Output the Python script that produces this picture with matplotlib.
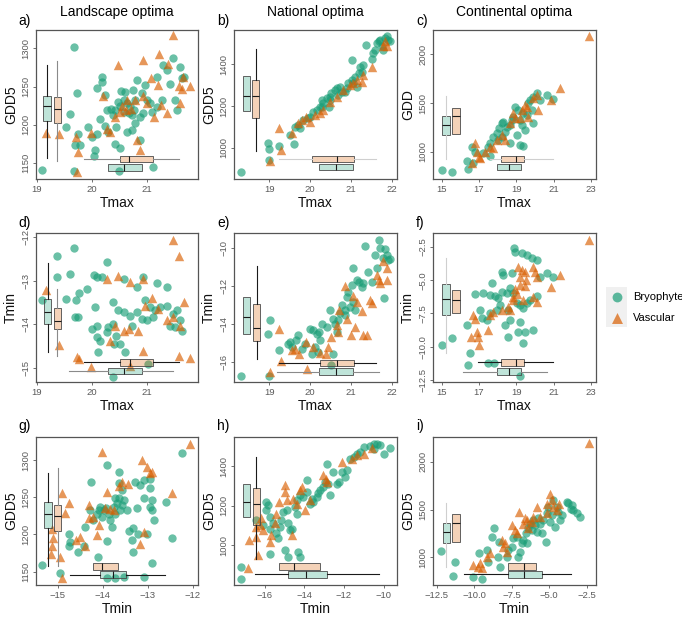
import numpy as np
import matplotlib
matplotlib.use("Agg")
import matplotlib.pyplot as plt
from matplotlib.colors import to_rgba

plt.rcParams['font.family'] = ['Liberation Sans', 'DejaVu Sans']

GREEN = '#1b9e77'
ORANGE = '#d95f02'

# ---------------- data (x, y) per panel and group ----------------
a_bryo = np.array([(19.09,1141),(19.68,1302),(19.73,1242),(19.61,1214),(19.53,1197),(19.70,1173),(19.79,1173),(19.68,1140),(19.76,1188),(19.94,1197),(20.00,1184),(20.09,1188),(20.06,1167),(20.05,1159),(20.10,1248),(20.18,1256),(20.19,1262),(20.25,1239),(20.27,1219),(20.15,1208),(20.24,1199),(20.29,1191),(20.38,1213),(20.42,1219),(20.35,1221),(20.48,1230),(20.53,1244),(20.61,1243),(20.52,1224),(20.58,1232),(20.64,1228),(20.70,1224),(20.58,1217),(20.67,1215),(20.73,1213),(20.76,1219),(20.79,1232),(20.82,1258),(20.75,1245),(20.91,1241),(20.97,1252),(21.00,1232),(21.06,1228),(21.09,1217),(20.94,1215),(20.88,1210),(20.79,1202),(20.73,1193),(20.64,1191),(20.45,1197),(20.42,1175),(20.52,1169),(20.88,1180),(21.11,1145),(20.50,1140),(21.18,1263),(21.30,1278),(21.36,1272),(21.47,1287),(21.61,1276),(21.64,1261),(21.42,1253),(21.52,1232),(21.55,1219),(21.27,1232),(21.18,1223),(21.67,1263)])
a_vasc = np.array([(19.17,1189),(19.41,1188),(19.72,1184),(19.76,1164),(19.73,1138),(19.98,1189),(20.21,1237),(20.27,1195),(20.48,1278),(20.62,1219),(20.79,1232),(20.83,1180),(20.87,1167),(20.94,1285),(20.94,1237),(21.00,1228),(21.08,1261),(21.13,1210),(21.23,1293),(21.36,1215),(21.39,1280),(21.48,1317),(21.58,1251),(21.64,1247),(21.66,1263),(21.79,1251),(21.61,1228),(21.25,1226),(21.21,1252),(20.33,1191),(20.42,1210),(20.52,1217),(20.55,1224),(20.64,1232),(20.71,1221)])

b_bryo = np.array([(18.32,882),(18.96,1024),(18.99,992),(19.00,941),(19.24,1008),(19.51,1061),(19.60,1018),(19.63,1101),(19.71,1109),(19.75,1093),(19.83,1133),(19.95,1141),(19.99,1149),(20.08,1173),(20.16,1181),(20.24,1197),(20.28,1229),(20.32,1213),(20.40,1237),(20.48,1245),(20.52,1261),(20.61,1277),(20.65,1285),(20.69,1253),(20.73,1293),(20.77,1269),(20.85,1269),(20.89,1285),(20.93,1309),(21.01,1325),(21.03,1421),(21.05,1309),(21.09,1341),(21.14,1293),(21.18,1357),(21.22,1389),(21.26,1365),(21.30,1397),(21.36,1490),(21.50,1424),(21.54,1453),(21.58,1469),(21.62,1501),(21.67,1509),(21.71,1517),(21.75,1485),(21.79,1469),(21.83,1525),(21.87,1533),(21.91,1517),(21.95,1509),(20.28,1197),(20.45,1197),(20.48,1229)])
b_vasc = np.array([(19.24,1096),(19.28,989),(19.02,936),(19.55,1069),(19.71,1117),(19.81,1133),(19.91,1149),(19.99,1125),(20.12,1157),(20.24,1165),(20.32,1181),(20.48,1221),(20.65,1245),(20.81,1277),(20.97,1301),(21.05,1309),(21.14,1325),(21.26,1317),(21.30,1349),(21.50,1389),(21.79,1485),(21.87,1485),(21.83,1509)])

c_bryo = np.array([(15.00,812),(15.55,788),(16.43,824),(16.70,889),(16.34,909),(16.61,1053),(16.79,1001),(17.23,984),(17.59,957),(17.50,1053),(17.59,1087),(17.77,1155),(17.95,1189),(18.09,1241),(18.21,1292),(18.30,1309),(18.04,1121),(18.21,1155),(18.39,1207),(18.48,1258),(18.66,1275),(18.75,1326),(18.84,1360),(18.93,1463),(19.11,1429),(19.20,1326),(19.29,1275),(19.38,1060),(19.20,1070),(18.66,1087),(19.02,1172),(19.46,1224),(19.55,1378),(19.64,1497),(19.73,1531),(20.09,1600),(19.91,1566),(20.27,1531),(20.63,1583),(20.98,1538),(19.82,1429),(19.91,1292),(19.38,1395)])
c_vasc = np.array([(22.89,2188),(21.34,1658),(20.86,1531),(20.09,1583),(19.91,1549),(20.18,1429),(19.55,1463),(19.46,1480),(19.20,1343),(18.93,1343),(18.66,1292),(18.21,1172),(18.39,1121),(17.95,1121),(17.77,1036),(17.59,1053),(17.02,950),(17.05,933),(16.79,1087),(16.61,882),(16.91,1001),(17.32,1001),(18.84,1395),(19.29,1429),(19.64,1360)])

d_bryo = np.array([(19.09,-13.45),(19.38,-12.44),(19.38,-12.92),(19.68,-12.25),(19.61,-12.84),(19.77,-13.28),(19.72,-13.45),(19.70,-13.84),(19.76,-13.84),(19.53,-13.42),(19.92,-13.18),(20.05,-12.87),(20.10,-12.92),(20.18,-12.92),(20.27,-12.56),(20.06,-13.60),(20.09,-14.03),(20.00,-14.11),(20.10,-14.30),(20.12,-14.63),(20.15,-14.38),(20.27,-14.19),(20.41,-14.46),(20.45,-14.26),(20.52,-14.46),(20.61,-14.65),(20.58,-12.95),(20.82,-13.14),(20.94,-12.91),(21.18,-13.05),(21.36,-13.14),(20.39,-13.49),(20.48,-13.68),(20.59,-13.72),(20.70,-13.80),(20.82,-13.72),(20.91,-13.88),(20.97,-13.45),(21.06,-13.60),(21.15,-13.68),(21.24,-13.60),(21.36,-13.57),(21.48,-13.76),(21.55,-13.68),(21.61,-13.91),(21.64,-14.16),(21.52,-14.07),(21.42,-14.03),(21.12,-13.84),(21.00,-13.91),(20.73,-14.03),(20.39,-13.99),(20.30,-14.07),(20.39,-15.22),(21.02,-14.91)])
d_vasc = np.array([(19.17,-13.22),(19.41,-14.47),(19.73,-14.75),(19.77,-14.81),(19.99,-14.98),(20.27,-12.97),(20.48,-12.89),(20.70,-13.02),(20.94,-12.95),(20.97,-13.59),(21.09,-13.39),(20.94,-14.61),(21.48,-12.05),(21.58,-12.43),(21.67,-13.49),(21.36,-13.91),(21.48,-13.84),(21.61,-14.05),(21.59,-14.73),(21.79,-14.77),(20.33,-14.38),(20.42,-14.03),(20.58,-14.15),(20.67,-14.11),(20.85,-14.15),(20.70,-14.96),(21.21,-13.64)])

e_bryo = np.array([(18.32,-16.76),(19.02,-13.81),(18.98,-14.51),(19.00,-16.76),(19.24,-15.40),(19.46,-15.04),(19.51,-14.96),(19.55,-15.22),(19.65,-14.87),(19.71,-14.60),(19.79,-15.31),(19.87,-15.04),(19.99,-14.25),(20.08,-14.34),(20.16,-14.51),(20.22,-14.42),(20.24,-14.87),(20.12,-15.22),(20.20,-15.49),(20.04,-15.58),(20.28,-13.98),(20.40,-14.16),(20.48,-13.27),(20.56,-13.72),(20.61,-13.98),(20.69,-13.81),(20.73,-13.45),(20.77,-13.01),(20.85,-13.27),(20.89,-12.57),(20.93,-12.30),(20.97,-13.10),(21.01,-11.95),(21.05,-12.83),(21.09,-13.27),(21.14,-11.68),(21.20,-11.77),(21.26,-12.04),(21.30,-11.86),(21.34,-9.91),(21.42,-11.24),(21.50,-11.77),(21.58,-10.35),(21.62,-11.06),(21.67,-9.59),(21.71,-10.00),(21.79,-10.53),(21.83,-10.05),(21.87,-10.35),(21.91,-10.62),(21.95,-10.58),(21.80,-12.65),(21.05,-11.06),(20.85,-13.54),(20.65,-14.42),(20.56,-15.58),(20.51,-16.14)])
e_vasc = np.array([(19.24,-14.25),(19.02,-16.55),(19.29,-15.96),(19.55,-15.40),(19.63,-15.31),(19.73,-15.58),(19.90,-14.96),(19.93,-16.37),(20.06,-15.22),(20.24,-15.52),(20.39,-15.58),(20.44,-15.22),(20.52,-14.69),(20.65,-14.07),(20.69,-14.42),(20.71,-13.27),(20.85,-12.00),(20.89,-13.72),(20.99,-14.60),(21.04,-12.53),(21.14,-12.83),(21.26,-13.33),(21.30,-14.60),(21.38,-14.60),(21.45,-12.74),(21.50,-12.92),(21.62,-11.42),(21.67,-11.68),(21.79,-10.71),(21.87,-11.06),(21.87,-11.68),(21.71,-11.86),(21.09,-14.16)])

f_bryo = np.array([(18.88,-2.60),(18.93,-2.85),(19.29,-2.97),(19.55,-3.10),(19.82,-3.35),(20.09,-3.47),(20.63,-4.43),(20.98,-4.78),(20.27,-4.73),(18.21,-4.36),(18.30,-4.61),(18.75,-4.48),(17.68,-5.23),(16.79,-6.04),(17.23,-5.99),(17.59,-6.11),(17.86,-6.19),(18.04,-6.36),(18.21,-5.86),(18.48,-5.99),(18.66,-5.61),(18.84,-5.94),(19.02,-6.74),(19.20,-6.87),(19.38,-7.12),(19.55,-6.74),(19.73,-6.49),(20.09,-6.19),(17.04,-7.25),(17.16,-7.87),(17.41,-8.00),(16.34,-8.37),(17.59,-7.50),(17.95,-7.25),(18.13,-6.87),(18.57,-7.25),(18.66,-8.00),(18.39,-8.37),(19.20,-8.12),(19.11,-8.87),(19.46,-8.87),(19.91,-8.75),(19.38,-9.75),(18.57,-9.25),(16.52,-10.49),(16.39,-11.37),(17.50,-11.24),(17.80,-11.24),(19.20,-12.19),(15.00,-9.87),(15.55,-9.34)])
f_vasc = np.array([(22.89,-1.97),(21.34,-4.61),(20.86,-5.54),(19.11,-4.00),(19.29,-4.25),(19.46,-4.38),(19.20,-4.76),(19.91,-4.00),(20.00,-4.38),(20.09,-4.76),(19.52,-5.01),(19.20,-5.38),(19.46,-5.46),(18.93,-5.63),(19.02,-6.00),(18.84,-6.26),(19.38,-6.51),(19.91,-6.26),(20.09,-6.63),(18.84,-6.51),(18.57,-7.01),(18.66,-7.26),(18.21,-7.26),(17.77,-7.38),(17.59,-7.63),(17.50,-8.76),(16.88,-8.89),(16.96,-9.26),(17.02,-9.89),(16.55,-9.26),(16.70,-7.63),(16.79,-7.89)])

g_bryo = np.array([(-15.36,1159),(-14.96,1148),(-14.76,1201),(-14.73,1190),(-14.76,1184),(-14.56,1176),(-14.41,1184),(-14.39,1210),(-14.27,1270),(-14.11,1170),(-14.06,1237),(-13.98,1233),(-14.13,1228),(-13.91,1293),(-13.80,1210),(-13.91,1191),(-13.65,1284),(-13.65,1269),(-13.57,1260),(-13.54,1246),(-13.72,1249),(-13.65,1249),(-13.46,1233),(-13.42,1204),(-13.35,1193),(-13.33,1177),(-13.28,1271),(-13.24,1235),(-13.17,1266),(-13.09,1273),(-13.08,1249),(-12.94,1262),(-12.94,1275),(-12.91,1246),(-12.94,1237),(-12.91,1233),(-12.87,1219),(-13.02,1201),(-13.22,1201),(-13.33,1208),(-13.09,1143),(-12.91,1162),(-12.59,1244),(-12.45,1195),(-12.24,1309),(-14.09,1233),(-14.02,1224),(-13.92,1235),(-13.87,1228),(-13.76,1237),(-13.69,1242),(-13.61,1233),(-13.57,1240),(-13.72,1228),(-13.83,1219),(-14.21,1219),(-14.28,1233),(-13.72,1141),(-13.91,1142),(-13.54,1143)])
g_vasc = np.array([(-15.13,1207),(-15.12,1195),(-15.13,1184),(-15.16,1174),(-14.96,1170),(-14.90,1256),(-14.85,1229),(-14.75,1242),(-14.91,1141),(-14.50,1197),(-14.59,1193),(-14.39,1184),(-14.32,1240),(-14.32,1222),(-14.21,1224),(-14.13,1199),(-14.09,1213),(-14.03,1311),(-13.95,1235),(-13.91,1257),(-13.83,1234),(-13.76,1233),(-13.65,1265),(-13.57,1271),(-13.43,1268),(-13.18,1187),(-13.13,1300),(-13.08,1203),(-13.02,1291),(-12.96,1282),(-12.91,1284),(-12.46,1256),(-12.05,1322)])

h_bryo = np.array([(-17.18,826),(-17.18,890),(-16.46,1127),(-15.92,1219),(-15.83,1202),(-15.92,1177),(-15.75,1143),(-16.08,1101),(-15.75,1084),(-15.58,1110),(-15.41,1059),(-15.32,1034),(-15.24,1093),(-15.16,1127),(-15.07,1169),(-14.90,1177),(-14.82,1110),(-14.73,1076),(-14.60,1084),(-15.75,954),(-14.99,975),(-14.82,941),(-14.31,966),(-14.23,941),(-14.48,1194),(-14.39,1228),(-14.23,1253),(-14.06,1245),(-13.89,1270),(-13.85,1329),(-13.72,1211),(-13.64,1236),(-13.55,1219),(-13.38,1245),(-13.30,1262),(-13.21,1278),(-13.04,1295),(-12.96,1321),(-12.87,1413),(-12.79,1312),(-12.54,1371),(-12.37,1312),(-12.28,1321),(-12.11,1371),(-11.95,1346),(-11.86,1380),(-11.69,1439),(-11.52,1447),(-11.35,1464),(-11.19,1473),(-10.98,1498),(-10.68,1501),(-10.51,1515),(-10.34,1515),(-10.17,1506),(-10.00,1464),(-9.70,1493),(-10.51,1489),(-12.71,1253),(-14.39,1160)])
h_vasc = np.array([(-16.84,882),(-16.79,1025),(-16.34,949),(-16.46,1042),(-16.42,1093),(-16.25,1101),(-16.17,1135),(-16.08,1076),(-15.75,1017),(-15.66,1051),(-15.49,1110),(-15.41,1160),(-15.27,1219),(-14.99,1304),(-14.99,1270),(-14.90,1228),(-14.65,1051),(-14.56,1236),(-14.39,1211),(-14.23,1278),(-14.14,1295),(-13.97,1177),(-13.72,1228),(-13.04,1354),(-12.91,1338),(-12.87,1321),(-12.11,1422),(-11.61,1439),(-11.35,1456),(-10.98,1464),(-10.59,1495)])

i_bryo = np.array([(-12.25,1069),(-11.40,808),(-11.29,955),(-10.07,798),(-9.51,770),(-9.67,1042),(-9.18,1077),(-9.06,955),(-8.84,1216),(-8.69,1303),(-8.33,1164),(-8.40,1007),(-7.84,1007),(-7.73,1077),(-7.51,1112),(-7.39,1199),(-7.17,1216),(-7.06,1007),(-6.95,1059),(-6.84,1146),(-6.73,1181),(-6.55,1251),(-6.39,1303),(-6.28,1355),(-6.06,1390),(-5.95,1338),(-5.84,1268),(-5.72,1408),(-5.61,1355),(-5.50,1251),(-5.39,1390),(-5.21,1164),(-5.17,1460),(-5.06,1530),(-4.94,1373),(-4.83,1443),(-4.72,1599),(-4.61,1321),(-4.50,1530),(-4.39,1477),(-4.28,1390),(-4.16,1443),(-3.83,1582),(-3.72,1565),(-3.56,1512),(-3.39,1495),(-3.16,1460),(-2.94,1425),(-3.50,1547),(-6.17,1286),(-6.50,1146),(-8.29,903)])
i_vasc = np.array([(-2.34,2199),(-10.07,920),(-9.73,903),(-9.51,885),(-9.62,937),(-9.18,1007),(-8.95,1042),(-8.17,1181),(-8.06,1112),(-7.95,1146),(-7.84,1059),(-7.51,1338),(-7.28,1286),(-7.13,1251),(-7.00,1477),(-6.73,1355),(-6.61,1408),(-6.39,1303),(-6.17,1373),(-6.06,1425),(-5.79,1530),(-5.61,1425),(-5.17,1564),(-4.94,1669),(-4.83,1599),(-4.72,1530),(-4.50,1495),(-4.32,1564),(-5.12,1460),(-6.50,1390)])

# box stats: [whislo, q1, median, q3, whishi]
a_vbox_bryo = [1156, 1205, 1225, 1237, 1278]
a_vbox_vasc = [1153, 1202, 1220, 1236, 1283]
a_hbox_vasc = [19.87, 20.52, 20.68, 21.12, 21.59]
a_hbox_bryo = [19.58, 20.30, 20.59, 20.91, 21.48]
b_vbox_bryo = [1000, 1176, 1249, 1345, 1480]
b_vbox_vasc = [984, 1144, 1248, 1325, 1473]
b_hbox_vasc = [19.24, 20.05, 20.66, 21.07, 21.61]
b_hbox_bryo = [19.20, 20.21, 20.62, 21.05, 21.67]
c_vbox_bryo = [925, 1171, 1274, 1370, 1575]
c_vbox_vasc = [1000, 1182, 1367, 1452, 1700]
c_hbox_vasc = [17.59, 18.16, 18.98, 19.43, 20.98]
c_hbox_bryo = [16.16, 17.98, 18.61, 19.23, 20.66]
d_vbox_bryo = [-14.63, -13.99, -13.71, -13.43, -12.60]
d_vbox_vasc = [-14.73, -14.11, -13.93, -13.62, -13.18]
d_hbox_vasc = [19.87, 20.52, 20.70, 21.12, 21.59]
d_hbox_bryo = [19.58, 20.30, 20.59, 20.91, 21.48]
e_vbox_bryo = [-16.50, -14.51, -13.66, -12.60, -10.50]
e_vbox_vasc = [-15.84, -14.90, -14.19, -12.96, -10.94]
e_hbox_vasc = [19.24, 20.24, 20.66, 21.07, 21.61]
e_hbox_bryo = [19.20, 20.21, 20.62, 21.05, 21.67]
f_vbox_bryo = [-10.47, -7.61, -6.43, -5.28, -3.33]
f_vbox_vasc = [-9.50, -7.46, -6.48, -5.73, -3.00]
f_hbox_vasc = [16.96, 18.16, 18.98, 19.43, 20.98]
f_hbox_bryo = [16.16, 17.98, 18.61, 19.23, 20.66]
g_vbox_bryo = [1158, 1208, 1228, 1243, 1283]
g_vbox_vasc = [1157, 1205, 1225, 1240, 1289]
g_hbox_vasc = [-14.70, -14.21, -14.02, -13.67, -13.00]
g_hbox_bryo = [-14.73, -14.06, -13.78, -13.48, -12.61]
h_vbox_bryo = [900, 1140, 1219, 1312, 1480]
h_vbox_vasc = [927, 1101, 1211, 1292, 1447]
h_hbox_vasc = [-16.50, -15.27, -14.53, -13.21, -10.30]
h_hbox_bryo = [-16.51, -14.85, -13.92, -12.84, -10.26]
i_vbox_bryo = [902, 1153, 1268, 1362, 1571]
i_vbox_vasc = [1000, 1157, 1362, 1450, 1700]
i_hbox_vasc = [-9.50, -7.73, -6.68, -5.88, -4.50]
i_hbox_bryo = [-10.69, -7.77, -6.66, -5.50, -3.54]

titles = ["Landscape optima", "National optima", "Continental optima"]
letters = ["a)", "b)", "c)", "d)", "e)", "f)", "g)", "h)", "i)"]
xlabels = ["Tmax"] * 6 + ["Tmin"] * 3
ylabels = ["GDD5", "GDD5", "GDD", "Tmin", "Tmin", "Tmin", "GDD5", "GDD5", "GDD5"]
legend_labels = ["Bryophyte", "Vascular"]

# ---------------- layout / style ----------------
K, G, L, N = '#1a1a1a', '#8a8a8a', '#cfcfcf', 'none'
M = "\u2212"
panels = [
    dict(bryo=a_bryo, vasc=a_vasc, vb=a_vbox_bryo, vv=a_vbox_vasc, hv=a_hbox_vasc, hb=a_hbox_bryo,
         xlim=(18.99, 21.93), ylim=(1129, 1324), xt=[19, 20, 21], yt=[1150, 1200, 1250, 1300], ytl=None, xtl=None,
         vpos=(19.19, 19.38), hpos=(1155, 1144), wc=(K, G, G, N)),
    dict(bryo=b_bryo, vasc=b_vasc, vb=b_vbox_bryo, vv=b_vbox_vasc, hv=b_hbox_vasc, hb=b_hbox_bryo,
         xlim=(18.14, 22.12), ylim=(850, 1564), xt=[19, 20, 21, 22], yt=[1000, 1200, 1400], ytl=None, xtl=None,
         vpos=(18.45, 18.67), hpos=(946, 907), wc=(N, K, L, N)),
    dict(bryo=c_bryo, vasc=c_vasc, vb=c_vbox_bryo, vv=c_vbox_vasc, hv=c_hbox_vasc, hb=c_hbox_bryo,
         xlim=(14.53, 23.28), ylim=(720, 2250), xt=[15, 17, 19, 21, 23], yt=[1000, 1500, 2000], ytl=None, xtl=None,
         vpos=(15.24, 15.77), hpos=(925, 843), wc=(L, N, L, N)),
    dict(bryo=d_bryo, vasc=d_vasc, vb=d_vbox_bryo, vv=d_vbox_vasc, hv=d_hbox_vasc, hb=d_hbox_bryo,
         xlim=(18.99, 21.93), ylim=(-15.33, -11.90), xt=[19, 20, 21], yt=[-15, -14, -13, -12], ytl=None, xtl=None,
         vpos=(19.20, 19.38), hpos=(-14.88, -15.08), wc=(K, G, K, G)),
    dict(bryo=e_bryo, vasc=e_vasc, vb=e_vbox_bryo, vv=e_vbox_vasc, hv=e_hbox_vasc, hb=e_hbox_bryo,
         xlim=(18.14, 22.12), ylim=(-17.06, -9.21), xt=[19, 20, 21, 22], yt=[-16, -14, -12, -10], ytl=None, xtl=None,
         vpos=(18.45, 18.69), hpos=(-16.05, -16.51), wc=(N, K, K, G)),
    dict(bryo=f_bryo, vasc=f_vasc, vb=f_vbox_bryo, vv=f_vbox_vasc, hv=f_hbox_vasc, hb=f_hbox_bryo,
         xlim=(14.53, 23.28), ylim=(-12.65, -1.45), xt=[15, 17, 19, 21, 23], yt=[-12.5, -10, -7.5, -5, -2.5],
         ytl=[M + "12.5", M + "10.0", M + "7.5", M + "5.0", M + "2.5"], xtl=None,
         vpos=(15.24, 15.77), hpos=(-11.17, -11.87), wc=(L, N, K, G)),
    dict(bryo=g_bryo, vasc=g_vasc, vb=g_vbox_bryo, vv=g_vbox_vasc, hv=g_hbox_vasc, hb=g_hbox_bryo,
         xlim=(-15.49, -11.88), ylim=(1132, 1331), xt=[-15, -14, -13, -12], yt=[1150, 1200, 1250, 1300], ytl=None, xtl=None,
         vpos=(-15.22, -15.01), hpos=(1157, 1146), wc=(K, G, N, K)),
    dict(bryo=h_bryo, vasc=h_vasc, vb=h_vbox_bryo, vv=h_vbox_vasc, hv=h_hbox_vasc, hb=h_hbox_bryo,
         xlim=(-17.55, -9.33), ylim=(797, 1549), xt=[-16, -14, -12, -10], yt=[1000, 1200, 1400], ytl=None, xtl=None,
         vpos=(-16.93, -16.42), hpos=(892, 851), wc=(N, K, N, K)),
    dict(bryo=i_bryo, vasc=i_vasc, vb=i_vbox_bryo, vv=i_vbox_vasc, hv=i_hbox_vasc, hb=i_hbox_bryo,
         xlim=(-12.76, -1.87), ylim=(711, 2261), xt=[-12.5, -10, -7.5, -5, -2.5], yt=[1000, 1500, 2000], ytl=None,
         xtl=[M + "12.5", M + "10.0", M + "7.5", M + "5.0", M + "2.5"],
         vpos=(-11.87, -11.21), hpos=(906, 822), wc=(L, N, N, K)),
]

W, H = 682, 617
fig = plt.figure(figsize=(W / 100, H / 100), dpi=100)
col_left = [36, 234, 433]
col_w = [162, 163, 163]
row_top = [30, 233, 437]
row_h = [149, 149, 148]
letter_x = [18, 217, 416]
letter_dy = [9, 10.5, 11]
AX_COL = '#555555'


def draw_box(ax, stats, pos, horizontal, color, wcol, width):
    st = dict(whislo=stats[0], q1=stats[1], med=stats[2], q3=stats[3], whishi=stats[4], fliers=[])
    ax.bxp([st], positions=[pos], widths=[width],
           orientation='horizontal' if horizontal else 'vertical',
           patch_artist=True, showcaps=False, showfliers=False, manage_ticks=False,
           boxprops=dict(facecolor=to_rgba(color, 0.28), edgecolor='#4a4a4a', linewidth=0.6),
           medianprops=dict(color='#1a1a1a', linewidth=0.8),
           whiskerprops=dict(color=wcol, linewidth=0.8), zorder=3)


for k, p in enumerate(panels):
    r, c = divmod(k, 3)
    l, t, w, h = col_left[c], row_top[r], col_w[c], row_h[r]
    ax = fig.add_axes([l / W, 1 - (t + h) / H, w / W, h / H])
    ax.set_xlim(*p['xlim'])
    ax.set_ylim(*p['ylim'])
    ax.scatter(p['bryo'][:, 0], p['bryo'][:, 1], s=36, marker='o', color=GREEN, alpha=0.65,
               linewidths=0, zorder=2)
    ax.scatter(p['vasc'][:, 0], p['vasc'][:, 1], s=46, marker='^', color=ORANGE, alpha=0.65,
               linewidths=0, zorder=2)
    xr = p['xlim'][1] - p['xlim'][0]
    yr = p['ylim'][1] - p['ylim'][0]
    vw = 7.5 / w * xr
    hw = 6.5 / h * yr
    draw_box(ax, p['vb'], p['vpos'][0], False, GREEN, p['wc'][0], vw)
    draw_box(ax, p['vv'], p['vpos'][1], False, ORANGE, p['wc'][1], vw)
    draw_box(ax, p['hv'], p['hpos'][0], True, ORANGE, p['wc'][2], hw)
    draw_box(ax, p['hb'], p['hpos'][1], True, GREEN, p['wc'][3], hw)

    ax.set_xticks(p['xt'])
    if p['xtl']:
        ax.set_xticklabels(p['xtl'])
    ax.set_yticks(p['yt'])
    if p['ytl']:
        ax.set_yticklabels(p['ytl'])
    ax.tick_params(axis='both', labelsize=6.8, colors='#5a5a5a', length=2.5, width=0.6, pad=1.5)
    ax.tick_params(axis='y', labelrotation=90)
    for lab in ax.get_yticklabels():
        lab.set_va('center')
    for sp in ax.spines.values():
        sp.set_color(AX_COL)
        sp.set_linewidth(0.9)
    ax.set_xlabel(xlabels[k], fontsize=10, labelpad=1.5, color='#111111')
    ax.set_ylabel(ylabels[k], fontsize=10, labelpad=2.5, color='#111111')
    fig.text(letter_x[c] / W, 1 - (t - letter_dy[r]) / H, letters[k], fontsize=10, ha='left', va='center')
    if r == 0:
        fig.text((l + w / 2) / W, 1 - 12 / H, titles[c], fontsize=10, ha='center', va='center')

# legend (ggplot-style keys with grey background)
kx, ky = 606, 287
lax = fig.add_axes([kx / W, 1 - (ky + 40) / H, 21 / W, 40 / H])
lax.set_xlim(0, 1)
lax.set_ylim(0, 2)
lax.set_facecolor('#f0f0f0')
lax.set_xticks([])
lax.set_yticks([])
for sp in lax.spines.values():
    sp.set_visible(False)
lax.scatter([0.5], [1.5], s=50, marker='o', color=GREEN, alpha=0.7, linewidths=0)
lax.scatter([0.5], [0.45], s=62, marker='^', color=ORANGE, alpha=0.7, linewidths=0)
fig.text(633 / W, 1 - (ky + 10) / H, legend_labels[0], fontsize=8, ha='left', va='center')
fig.text(633 / W, 1 - (ky + 31) / H, legend_labels[1], fontsize=8, ha='left', va='center')

fig.savefig('out.png', dpi=100)
